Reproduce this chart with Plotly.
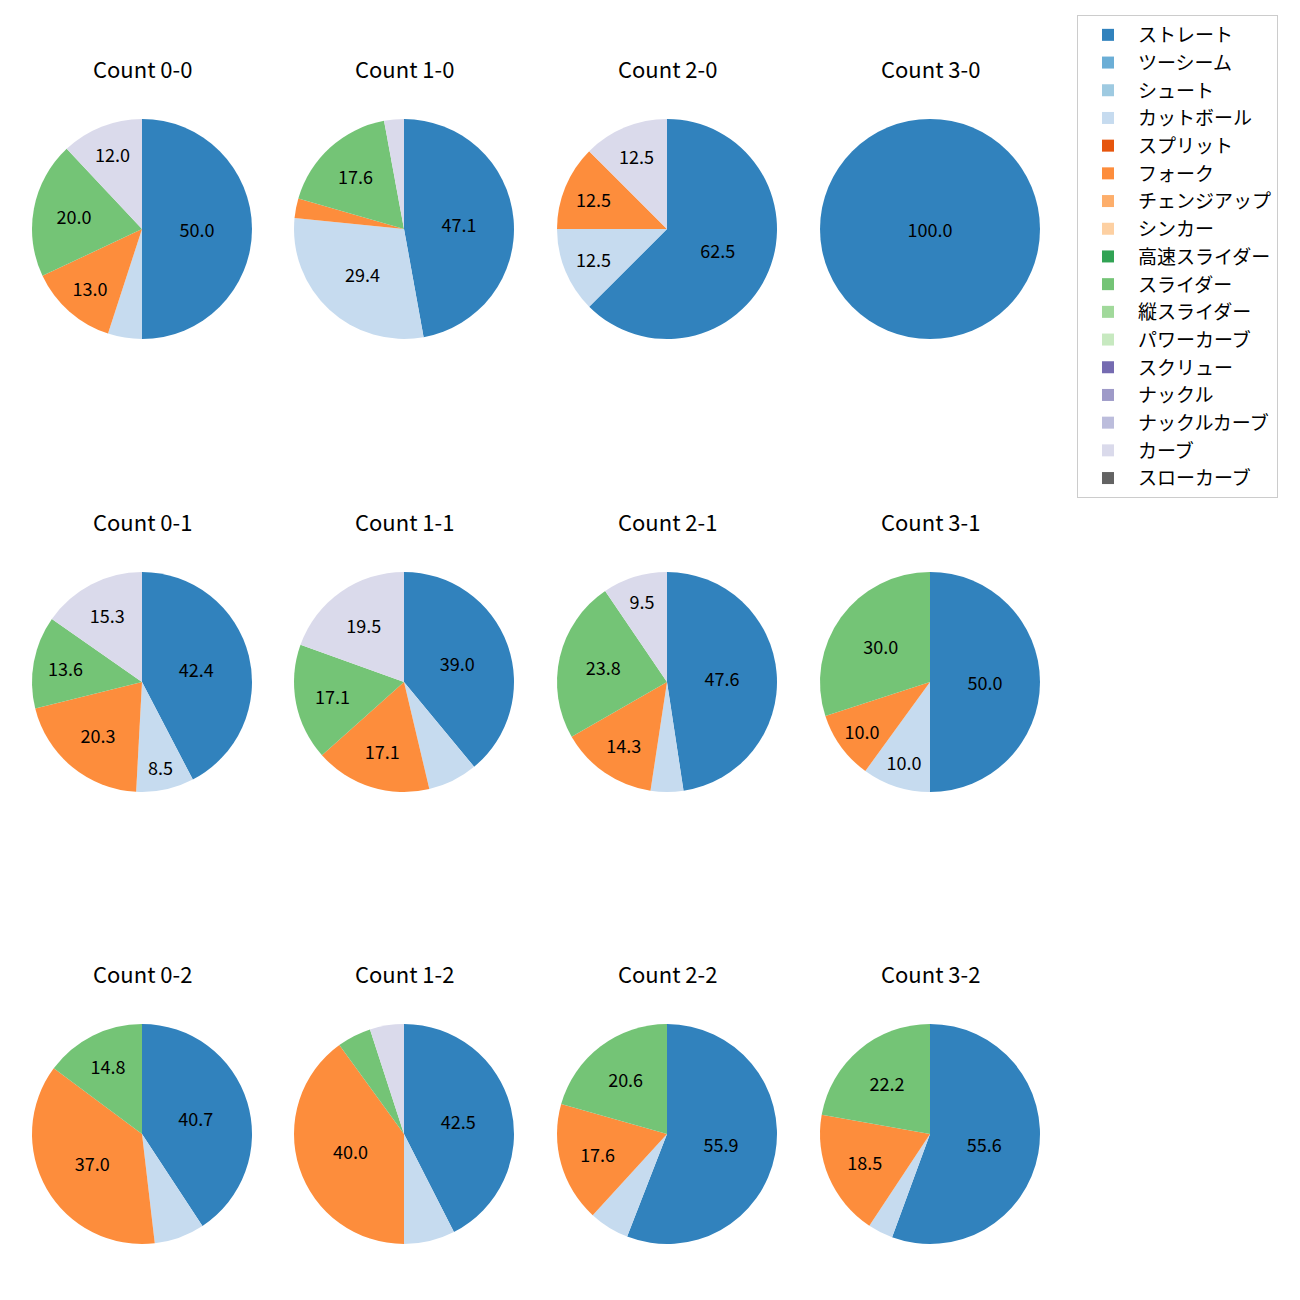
import plotly.graph_objects as go

pitch_types = ["ストレート", "ツーシーム", "シュート", "カットボール", "スプリット", "フォーク",
               "チェンジアップ", "シンカー", "高速スライダー", "スライダー", "縦スライダー",
               "パワーカーブ", "スクリュー", "ナックル", "ナックルカーブ", "カーブ", "スローカーブ"]
colors = ["#3182bd", "#6baed6", "#9ecae1", "#c6dbef", "#e6550d", "#fd8d3c", "#fdae6b", "#fdd0a2",
          "#31a354", "#74c476", "#a1d99b", "#c7e9c0", "#756bb1", "#9e9ac8", "#bcbddc", "#dadaeb",
          "#636363"]

counts = ["0-0", "1-0", "2-0", "3-0",
          "0-1", "1-1", "2-1", "3-1",
          "0-2", "1-2", "2-2", "3-2"]

# percentages per count: ストレート, カットボール, フォーク, スライダー, カーブ
straight = [50.0, 47.1, 62.5, 100.0, 42.4, 39.0, 47.6, 50.0, 40.7, 42.5, 55.9, 55.6]
cutball  = [5.0, 29.4, 12.5, 0.0, 8.5, 7.3, 4.8, 10.0, 7.4, 7.5, 5.9, 3.7]
fork     = [13.0, 2.9, 12.5, 0.0, 20.3, 17.1, 14.3, 10.0, 37.0, 40.0, 17.6, 18.5]
slider   = [20.0, 17.6, 0.0, 0.0, 13.6, 17.1, 23.8, 30.0, 14.8, 5.0, 20.6, 22.2]
curve    = [12.0, 2.9, 12.5, 0.0, 15.3, 19.5, 9.5, 0.0, 0.0, 5.0, 0.0, 0.0]

FONT = "Noto Sans CJK JP"
W = H = 1300
OFF = 8  # page body margin
col_cx = [142, 404, 667, 930]
row_cy = [229, 682, 1134]
R = 110
title_y = [68, 521, 973]

fig = go.Figure()
for i, c in enumerate(counts):
    r, k = divmod(i, 4)
    vals = [0.0] * len(pitch_types)
    vals[pitch_types.index("ストレート")] = straight[i]
    vals[pitch_types.index("カットボール")] = cutball[i]
    vals[pitch_types.index("フォーク")] = fork[i]
    vals[pitch_types.index("スライダー")] = slider[i]
    vals[pitch_types.index("カーブ")] = curve[i]
    texts = [f"{v:.1f}" if v >= 8 else "" for v in vals]
    cx, cy = col_cx[k] - OFF, row_cy[r] - OFF
    fig.add_trace(go.Pie(
        labels=pitch_types, values=vals, text=texts, texttemplate="%{text}",
        textposition="inside", insidetextorientation="horizontal",
        textfont=dict(family=FONT, size=18, color="black"),
        marker=dict(colors=colors, line=dict(width=0)),
        sort=False, direction="clockwise", rotation=0,
        domain=dict(x=[(cx - R) / W, (cx + R) / W], y=[1 - (cy + R) / H, 1 - (cy - R) / H]),
        showlegend=(i == 0), hoverinfo="label+percent",
    ))
    fig.add_annotation(text=f"Count {c}", x=cx / W, y=1 - (title_y[r] - OFF) / H,
                       xref="paper", yref="paper",
                       showarrow=False, font=dict(family=FONT, size=22, color="black"),
                       xanchor="center", yanchor="middle")

fig.update_layout(
    width=W, height=H, margin=dict(l=0, r=0, t=0, b=0),
    paper_bgcolor="white", plot_bgcolor="white",
    font=dict(family=FONT, size=18, color="black"),
    uniformtext=dict(minsize=18, mode="show"),
    legend=dict(x=(1077 - OFF) / W, y=1 - (15 - OFF) / H, xanchor="left", yanchor="top",
                bordercolor="#cccccc", borderwidth=1, bgcolor="white",
                font=dict(family=FONT, size=19), traceorder="normal", itemwidth=50),
)
fig.write_html("out.html")
